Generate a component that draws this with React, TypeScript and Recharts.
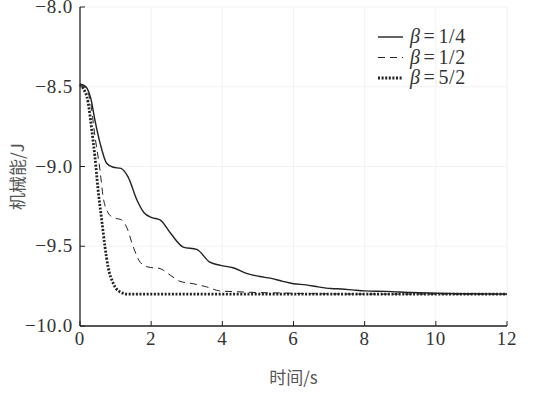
import { LineChart, Line, XAxis, YAxis, CartesianGrid } from 'recharts';

// time (s) and mechanical energy (J)
const tQuarter = [0, 0.1, 0.2, 0.3, 0.42, 0.56, 0.75, 0.93, 1.15, 1.35, 1.6, 1.8, 2.02, 2.25, 2.55, 2.9, 3.28, 3.65, 3.95, 4.3, 4.68, 5.05, 5.35, 5.7, 6.0, 6.35, 6.7, 7.05, 7.35, 7.7, 8.0, 8.6, 9.3, 10.0, 11.0, 12];
const eQuarter = [-8.485, -8.49, -8.51, -8.57, -8.71, -8.85, -8.98, -9.005, -9.012, -9.065, -9.21, -9.29, -9.32, -9.335, -9.42, -9.505, -9.52, -9.6, -9.62, -9.635, -9.67, -9.69, -9.7, -9.72, -9.735, -9.742, -9.755, -9.765, -9.768, -9.775, -9.78, -9.783, -9.79, -9.795, -9.798, -9.8];

const tHalf = [0, 0.1, 0.19, 0.3, 0.42, 0.56, 0.65, 0.79, 0.93, 1.17, 1.31, 1.49, 1.69, 1.91, 2.25, 2.53, 2.81, 3.18, 3.56, 3.93, 4.4, 4.96, 5.6, 6.5, 8, 10, 12];
const eHalf = [-8.485, -8.495, -8.52, -8.6, -8.81, -9.02, -9.19, -9.29, -9.32, -9.335, -9.38, -9.5, -9.6, -9.63, -9.64, -9.68, -9.72, -9.735, -9.755, -9.78, -9.785, -9.79, -9.793, -9.797, -9.8, -9.8, -9.8];

const tFive = [0, 0.09, 0.23, 0.33, 0.42, 0.51, 0.61, 0.7, 0.79, 0.93, 1.12, 1.35, 1.8, 3, 6, 9, 12];
const eFive = [-8.485, -8.51, -8.6, -8.77, -8.94, -9.15, -9.335, -9.5, -9.63, -9.73, -9.785, -9.8, -9.8, -9.8, -9.8, -9.8, -9.8];

const xTicks = [0, 2, 4, 6, 8, 10, 12];
const yTicks = [-10, -9.5, -9, -8.5, -8];

const zip = (t: number[], e: number[]) => t.map((x, i) => ({ t: x, e: e[i] }));

const series = [
  { name: '1/4', data: zip(tQuarter, eQuarter), dash: undefined, width: 1.4 },
  { name: '1/2', data: zip(tHalf, eHalf), dash: '7 5', width: 1 },
  { name: '5/2', data: zip(tFive, eFive), dash: '2 1.6', width: 2.8 },
];

const INK = '#222';
const SERIF = 'Liberation Serif, serif';
const CJK = 'Noto Sans CJK SC';
const TICK = 5;

const fmtY = (v: number) => (v < 0 ? '\u2212' : '') + Math.abs(v).toFixed(1);

function BottomTick({ x, y, payload }: any) {
  return (
    <g>
      <line x1={x} x2={x} y1={y - 10} y2={y - 10 - TICK} stroke={INK} />
      <text x={x} y={y + 9} textAnchor="middle" fontFamily={SERIF} fontSize={19} letterSpacing={0.8} fill="#333">
        {payload.value}
      </text>
    </g>
  );
}

function LeftTick({ x, y, payload }: any) {
  return (
    <g>
      <line x1={x + 7} x2={x + 7 + TICK} y1={y} y2={y} stroke={INK} />
      <text x={x} y={y + 6} textAnchor="end" fontFamily={SERIF} fontSize={19} letterSpacing={0.8} fill="#333">
        {fmtY(payload.value)}
      </text>
    </g>
  );
}

function TopTick({ x, y }: any) {
  return <line x1={x} x2={x} y1={y} y2={y + TICK} stroke={INK} />;
}

function RightTick({ x, y }: any) {
  return <line x1={x} x2={x - TICK} y1={y} y2={y} stroke={INK} />;
}

function LegendBox() {
  return (
    <svg width={130} height={80} style={{ position: 'absolute', left: 376, top: 20 }}>
      {series.map((s, i) => (
        <g key={s.name} transform={`translate(0, ${i * 20.5 + 17})`}>
          <line x1={2} x2={27} y1={0} y2={0} stroke={INK} strokeWidth={s.width} strokeDasharray={s.dash} />
          <text x={34} y={6} fontFamily={SERIF} fontSize={20} letterSpacing={0.6} fill="#333">
            <tspan fontStyle="italic">β</tspan>
            <tspan dx={3}>=</tspan>
            <tspan dx={3}>{s.name}</tspan>
          </text>
        </g>
      ))}
    </svg>
  );
}

export default function App() {
  return (
    <div style={{ position: 'absolute', left: 0, top: 0, width: 549, height: 396, background: '#fff', fontFamily: SERIF }}>
      <LineChart width={549} height={396} margin={{ top: 7, right: 42, bottom: 10, left: 0 }}>
        <CartesianGrid stroke="#f2f2f2" xAxisId="b" yAxisId="l" />
        <XAxis
          xAxisId="b"
          dataKey="t"
          type="number"
          domain={[0, 12]}
          ticks={xTicks}
          height={60}
          tickSize={0}
          tickMargin={10}
          axisLine={{ stroke: INK, strokeWidth: 1.3 }}
          tick={<BottomTick />}
          interval={0}
          label={{ value: '时间/s', position: 'center', dy: 22, fill: '#555', fontFamily: CJK, fontSize: 17 }}
        />
        <XAxis
          xAxisId="top"
          orientation="top"
          dataKey="t"
          type="number"
          domain={[0, 12]}
          ticks={xTicks}
          height={0}
          tickSize={0}
          tickMargin={0}
          axisLine={{ stroke: INK, strokeWidth: 1.3 }}
          tick={<TopTick />}
          interval={0}
        />
        <YAxis
          yAxisId="l"
          type="number"
          domain={[-10, -8]}
          ticks={yTicks}
          width={80}
          tickSize={0}
          tickMargin={7}
          axisLine={{ stroke: INK, strokeWidth: 1.3 }}
          tick={<LeftTick />}
          interval={0}
          label={{ value: '机械能/J', angle: -90, position: 'center', dx: -22, dy: 10, fill: '#555', fontFamily: CJK, fontSize: 17 }}
        />
        <YAxis
          yAxisId="r"
          orientation="right"
          type="number"
          domain={[-10, -8]}
          ticks={yTicks}
          width={0}
          tickSize={0}
          tickMargin={0}
          axisLine={{ stroke: '#444', strokeWidth: 2 }}
          tick={<RightTick />}
          interval={0}
        />
        {series.map((s) => (
          <Line
            key={s.name}
            xAxisId="b"
            yAxisId="l"
            data={s.data}
            dataKey="e"
            type="monotone"
            stroke={INK}
            strokeWidth={s.width}
            strokeDasharray={s.dash}
            dot={false}
            activeDot={false}
            isAnimationActive={false}
          />
        ))}
      </LineChart>
      <LegendBox />
    </div>
  );
}
